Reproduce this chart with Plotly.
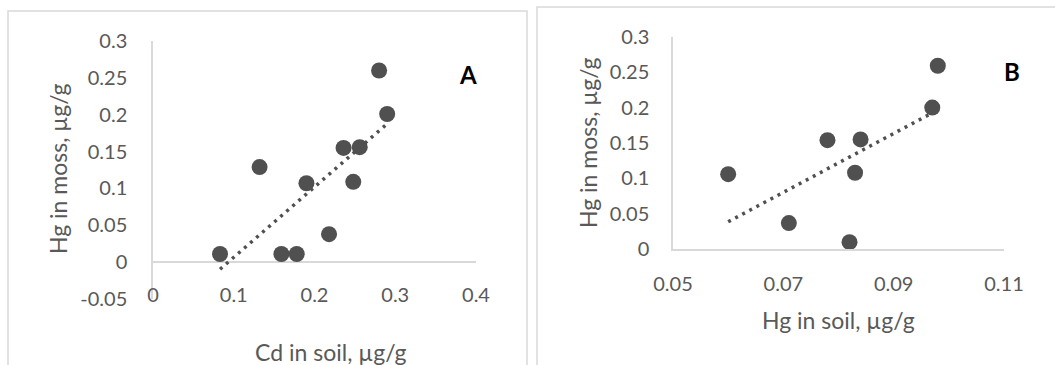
import numpy as np
import plotly.graph_objects as go

W, H = 1055, 365

# Panel A data: Cd in soil vs Hg in moss
cd_soil = [0.083, 0.132, 0.159, 0.178, 0.190, 0.218, 0.236, 0.256, 0.248, 0.280, 0.290]
hg_moss_a = [0.011, 0.129, 0.011, 0.011, 0.107, 0.038, 0.155, 0.156, 0.109, 0.260, 0.201]

# Panel B data: Hg in soil vs Hg in moss
hg_soil = [0.060, 0.071, 0.078, 0.084, 0.083, 0.082, 0.097, 0.098]
hg_moss_b = [0.106, 0.037, 0.154, 0.155, 0.108, 0.010, 0.200, 0.259]

xa_ticks = [0, 0.1, 0.2, 0.3, 0.4]
ya_ticks = [-0.05, 0, 0.05, 0.1, 0.15, 0.2, 0.25, 0.3]
xb_ticks = [0.05, 0.07, 0.09, 0.11]
yb_ticks = [0, 0.05, 0.1, 0.15, 0.2, 0.25, 0.3]

TXT = "#595959"
MK = "#505050"
AX = "#d9d9d9"
FONT = "Lato, Open Sans, sans-serif"

def px(x):
    return x / W

def py(y):
    return 1 - y / H

def trend(xs, ys):
    k, b = np.polyfit(xs, ys, 1)
    xx = np.array([min(xs), max(xs)])
    return xx, k * xx + b

fig = go.Figure()

dotline = dict(color=MK, width=3.5, dash="3px,5px")

fig.add_trace(go.Scatter(x=cd_soil, y=hg_moss_a, mode="markers", xaxis="x", yaxis="y",
                         marker=dict(size=16, color=MK), showlegend=False))
tx, ty = trend(cd_soil, hg_moss_a)
fig.add_trace(go.Scatter(x=tx, y=ty, mode="lines", xaxis="x", yaxis="y",
                         line=dotline, showlegend=False))

fig.add_trace(go.Scatter(x=hg_soil, y=hg_moss_b, mode="markers", xaxis="x2", yaxis="y2",
                         marker=dict(size=16, color=MK), showlegend=False))
tx, ty = trend(hg_soil, hg_moss_b)
fig.add_trace(go.Scatter(x=tx, y=ty, mode="lines", xaxis="x2", yaxis="y2",
                         line=dotline, showlegend=False))

tickfont = dict(family=FONT, size=20, color=TXT)
titlefont = dict(family=FONT, size=23, color=TXT)
labelfont = dict(family=FONT, size=24, color="black")

def ann(text, x, y, font, angle=0):
    return dict(text=text, xref="paper", yref="paper", x=px(x), y=py(y),
                xanchor="center", yanchor="middle", textangle=angle,
                showarrow=False, font=font)

fig.update_layout(
    width=W, height=H,
    margin=dict(l=0, r=0, t=0, b=0, pad=0),
    paper_bgcolor="white", plot_bgcolor="white",
    xaxis=dict(domain=[px(153), px(476)], range=[0, 0.4], tickvals=xa_ticks,
               ticktext=[f"{v:g}" for v in xa_ticks], showgrid=False, zeroline=False,
               showline=False, anchor="free", position=py(281), ticks="",
               tickfont=tickfont, automargin=False, fixedrange=True),
    yaxis=dict(domain=[py(299), py(41)], range=[-0.05, 0.3], tickvals=ya_ticks,
               ticktext=[f"{v:g}" for v in ya_ticks], showgrid=False,
               zeroline=True, zerolinecolor=AX, zerolinewidth=1.5,
               showline=True, linecolor=AX, linewidth=1.5, ticks="",
               ticklabelstandoff=20, anchor="x", tickfont=tickfont,
               automargin=False, fixedrange=True),
    xaxis2=dict(domain=[px(673), px(1004)], range=[0.05, 0.11], tickvals=xb_ticks,
                ticktext=[f"{v:g}" for v in xb_ticks], showgrid=False, zeroline=False,
                showline=True, linecolor=AX, linewidth=1.5, ticks="",
                ticklabelstandoff=16, anchor="y2", tickfont=tickfont,
                automargin=False, fixedrange=True),
    yaxis2=dict(domain=[py(249.3), py(36.7)], range=[0, 0.3], tickvals=yb_ticks,
                ticktext=[f"{v:g}" for v in yb_ticks], showgrid=False, zeroline=False,
                showline=True, linecolor=AX, linewidth=1.5, ticks="",
                ticklabelstandoff=18, anchor="x2", tickfont=tickfont,
                automargin=False, fixedrange=True),
    shapes=[
        dict(type="rect", xref="paper", yref="paper", x0=px(8), x1=px(527),
             y0=py(380), y1=py(11), line=dict(color=AX, width=1.5)),
        dict(type="rect", xref="paper", yref="paper", x0=px(537), x1=px(1070),
             y0=py(380), y1=py(7), line=dict(color=AX, width=1.5)),
    ],
    annotations=[
        ann("Hg in moss, µg/g", 58, 169, titlefont, -90),
        ann("Cd in soil, µg/g", 331, 352, titlefont),
        ann("<b>A</b>", 468, 74, labelfont),
        ann("Hg in moss, µg/g", 588, 143, titlefont, -90),
        ann("Hg in soil, µg/g", 838, 320, titlefont),
        ann("<b>B</b>", 1012, 72, labelfont),
    ],
)

fig.write_html("out.html", config={"displayModeBar": False},
               post_script="document.body.style.margin='0';document.body.style.overflow='hidden';")
